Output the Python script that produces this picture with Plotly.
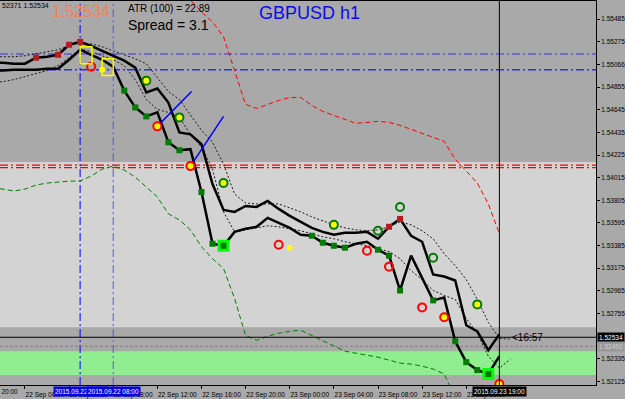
import plotly.graph_objects as go
import pandas as pd

# ---------------- data (GBPUSD H1) ----------------
bar_times = pd.date_range("2015-09-21 21:00", "2015-09-23 19:00", freq="h")
env_times = pd.date_range("2015-09-21 21:00", "2015-09-23 20:00", freq="h")
band_up_times = pd.date_range("2015-09-22 14:00", "2015-09-23 19:00", freq="h")
band_lo_times = pd.date_range("2015-09-21 21:00", "2015-09-23 15:00", freq="h")

line_a = [1.55082, 1.55082, 1.55072, 1.55072, 1.55128, 1.55137, 1.55155, 1.55248, 1.55275, 1.55238,
          1.55192, 1.55146, 1.55100, 1.55035, 1.54805, 1.54842, 1.54712, 1.54435, 1.54417, 1.54325,
          1.53955, 1.53716, 1.53697, 1.53752, 1.53743, 1.53799, 1.53725, 1.53660, 1.53605, 1.53549,
          1.53512, 1.53485, 1.53503, 1.53503, 1.53512, 1.53448, 1.53559, 1.53632, 1.53476, 1.53420,
          1.53116, 1.53097, 1.53060, 1.52645, 1.52589, 1.52414, 1.52562]
line_b = [1.55008, 1.55008, 1.55017, 1.55017, 1.55017, 1.55026, 1.55026, 1.55109, 1.55202, 1.55155,
          1.55109, 1.55045, 1.54823, 1.54666, 1.54583, 1.54620, 1.54343, 1.54269, 1.54279, 1.53882,
          1.53402, 1.53383, 1.53512, 1.53540, 1.53559, 1.53642, 1.53596, 1.53549, 1.53485, 1.53476,
          1.53411, 1.53383, 1.53365, 1.53402, 1.53420, 1.53346, 1.53291, 1.52968, 1.53291, 1.53079,
          1.52876, 1.52903, 1.52497, 1.52303, 1.52229, 1.52193, 1.52359]
env_upper = [1.55137, 1.55137, 1.55137, 1.55146, 1.55165, 1.55183, 1.55202, 1.55238, 1.55266, 1.55257,
             1.55229, 1.55192, 1.55155, 1.55118, 1.55072, 1.54943, 1.54814, 1.54740, 1.54602, 1.54454,
             1.54343, 1.54140, 1.53863, 1.53780, 1.53771, 1.53771, 1.53771, 1.53734, 1.53697, 1.53651,
             1.53614, 1.53577, 1.53549, 1.53531, 1.53522, 1.53531, 1.53559, 1.53605, 1.53577, 1.53522,
             1.53448, 1.53309, 1.53199, 1.53069, 1.52885, 1.52673, 1.52525, 1.52516]
env_lower = [1.54897, 1.54906, 1.54925, 1.54952, 1.54980, 1.55008, 1.55054, 1.55128, 1.55211, 1.55183,
             1.55146, 1.55109, 1.55054, 1.54925, 1.54740, 1.54648, 1.54620, 1.54574, 1.54417, 1.54297,
             1.54094, 1.53697, 1.53512, 1.53531, 1.53549, 1.53568, 1.53559, 1.53540, 1.53522, 1.53494,
             1.53466, 1.53448, 1.53420, 1.53402, 1.53383, 1.53356, 1.53328, 1.53263, 1.53152, 1.53069,
             1.52968, 1.52922, 1.52885, 1.52709, 1.52571, 1.52359, 1.52248, 1.52331]
band_upper = [1.55755, 1.55663, 1.55552, 1.55460, 1.55322, 1.54998, 1.54694, 1.54657, 1.54694, 1.54731,
              1.54759, 1.54759, 1.54685, 1.54629, 1.54592, 1.54555, 1.54519, 1.54528, 1.54537, 1.54528,
              1.54500, 1.54463, 1.54426, 1.54389, 1.54352, 1.54186, 1.54075, 1.53965, 1.53771, 1.53494]
band_lower = [1.53919, 1.53909, 1.53891, 1.53909, 1.53946, 1.53965, 1.53974, 1.53983, 1.53983, 1.54029,
              1.54094, 1.54122, 1.54085, 1.54020, 1.53928, 1.53836, 1.53679, 1.53623, 1.53531, 1.53374,
              1.53263, 1.53171, 1.52894, 1.52550, 1.52506, 1.52543, 1.52571, 1.52589, 1.52599, 1.52550,
              1.52506, 1.52451, 1.52405, 1.52386, 1.52368, 1.52349, 1.52322, 1.52294, 1.52285, 1.52266,
              1.52239, 1.52193, 1.51971]

red_sq_t = ["2015-09-22 01:00", "2015-09-22 03:00", "2015-09-22 04:00", "2015-09-22 05:00",
            "2015-09-23 09:00", "2015-09-23 10:00"]
red_sq_p = [1.55128, 1.55155, 1.55248, 1.55275, 1.53559, 1.53632]

green_sq_t = ["2015-09-22 09:00", "2015-09-22 10:00", "2015-09-22 11:00", "2015-09-22 13:00",
              "2015-09-22 14:00", "2015-09-22 16:00", "2015-09-22 17:00", "2015-09-22 18:00",
              "2015-09-23 02:00", "2015-09-23 03:00", "2015-09-23 04:00", "2015-09-23 05:00",
              "2015-09-23 08:00", "2015-09-23 09:00", "2015-09-23 10:00", "2015-09-23 13:00",
              "2015-09-23 15:00", "2015-09-23 16:00", "2015-09-23 17:00", "2015-09-23 18:00"]
green_sq_p = [1.54823, 1.54666, 1.54583, 1.54343, 1.54269, 1.53882, 1.53402, 1.53383,
              1.53476, 1.53411, 1.53383, 1.53365, 1.53346, 1.53291, 1.52968, 1.52876,
              1.52497, 1.52303, 1.52229, 1.52193]

big_sq_t = ["2015-09-22 18:00", "2015-09-23 18:00"]
big_sq_p = [1.53383, 1.52193]

yg_t = ["2015-09-22 11:00", "2015-09-22 14:00", "2015-09-22 18:00", "2015-09-23 04:00", "2015-09-23 17:00"]
yg_p = [1.54915, 1.54574, 1.53965, 1.53577, 1.52839]

gring_t = ["2015-09-23 08:00", "2015-09-23 10:00", "2015-09-23 13:00"]
gring_p = [1.53522, 1.53743, 1.53272]

yr_t = ["2015-09-22 12:00", "2015-09-22 15:00", "2015-09-23 14:00", "2015-09-23 19:00"]
yr_p = [1.54491, 1.54122, 1.52719, 1.52100]

rring_t = ["2015-09-22 06:00", "2015-09-22 23:00", "2015-09-23 07:00", "2015-09-23 09:00", "2015-09-23 12:00"]
rring_p = [1.55045, 1.53392, 1.53337, 1.53189, 1.52811]

ydot_t = ["2015-09-22 07:00", "2015-09-23 00:00"]
ydot_p = [1.55017, 1.53365]

trend1_t = ["2015-09-22 12:00", "2015-09-22 15:06"]
trend1_p = [1.54491, 1.54814]
trend2_t = ["2015-09-22 15:00", "2015-09-22 18:00"]
trend2_p = [1.54122, 1.54583]

box1 = ("2015-09-22 05:00", "2015-09-22 06:05", 1.55072, 1.55229)
box2 = ("2015-09-22 07:00", "2015-09-22 08:00", 1.54962, 1.55118)

blue_levels = [1.55162, 1.55017]
red_levels = [1.54131, 1.54108]
zone_light = (1.52626, 1.54159)
zone_green = (1.52183, 1.52405)
bid = 1.52534
ask = 1.52450
vlines = ["2015-09-22 05:00", "2015-09-22 08:00", "2015-09-23 19:00"]

x_ticks = ["2015-09-22 00:00", "2015-09-22 04:00", "2015-09-22 08:00", "2015-09-22 12:00",
           "2015-09-22 16:00", "2015-09-22 20:00", "2015-09-23 00:00", "2015-09-23 04:00",
           "2015-09-23 08:00", "2015-09-23 12:00", "2015-09-23 16:00"]
x_tick_text = ["22 Sep 00:00", "22 Sep 04:00", "22 Sep 08:00", "22 Sep 12:00", "22 Sep 16:00",
               "22 Sep 20:00", "23 Sep 00:00", "23 Sep 04:00", "23 Sep 08:00", "23 Sep 12:00",
               "23 Sep 16:00"]
y_ticks = [1.55485, 1.55275, 1.55066, 1.54855, 1.54645, 1.54435, 1.54225, 1.54015, 1.53805,
           1.53595, 1.53385, 1.53175, 1.52965, 1.52755, 1.52335, 1.52125]
y_tick_text = ["%.5f" % v for v in y_ticks]

# ---------------- figure ----------------
FONT = "Liberation Sans, Arial, sans-serif"
fig = go.Figure()

fig.add_trace(go.Scatter(x=band_lo_times, y=band_lower, mode="lines",
                         line=dict(color="#008000", width=1, dash="5px,3px")))
fig.add_trace(go.Scatter(x=band_up_times, y=band_upper, mode="lines",
                         line=dict(color="#FF0000", width=1, dash="5px,3px")))
fig.add_trace(go.Scatter(x=env_times, y=env_upper, mode="lines",
                         line=dict(color="#1A1A1A", width=1, dash="2px,2px")))
fig.add_trace(go.Scatter(x=env_times, y=env_lower, mode="lines",
                         line=dict(color="#1A1A1A", width=1, dash="2px,2px")))
fig.add_trace(go.Scatter(x=bar_times, y=line_a, mode="lines", line=dict(color="black", width=2.5)))
fig.add_trace(go.Scatter(x=bar_times, y=line_b, mode="lines", line=dict(color="black", width=2.5)))

for tt, pp in ((trend1_t, trend1_p), (trend2_t, trend2_p)):
    fig.add_trace(go.Scatter(x=tt, y=pp, mode="lines", line=dict(color="#0000FF", width=1.5)))

fig.add_trace(go.Scatter(x=big_sq_t, y=big_sq_p, mode="markers",
                         marker=dict(symbol="square", size=12, color="#00FF00", line=dict(width=0))))
fig.add_trace(go.Scatter(x=green_sq_t, y=green_sq_p, mode="markers",
                         marker=dict(symbol="square", size=6, color="#007A00", line=dict(width=0))))
fig.add_trace(go.Scatter(x=red_sq_t, y=red_sq_p, mode="markers",
                         marker=dict(symbol="square", size=6, color="#B41E1E", line=dict(width=0))))
fig.add_trace(go.Scatter(x=yg_t, y=yg_p, mode="markers",
                         marker=dict(symbol="circle", size=8, color="#FFFF00",
                                     line=dict(color="#007A00", width=2))))
fig.add_trace(go.Scatter(x=gring_t, y=gring_p, mode="markers",
                         marker=dict(symbol="circle", size=8, color="rgba(0,0,0,0)",
                                     line=dict(color="#007A00", width=2))))
fig.add_trace(go.Scatter(x=yr_t, y=yr_p, mode="markers",
                         marker=dict(symbol="circle", size=8, color="#FFFF00",
                                     line=dict(color="#FF0000", width=2))))
fig.add_trace(go.Scatter(x=rring_t, y=rring_p, mode="markers",
                         marker=dict(symbol="circle", size=8, color="rgba(0,0,0,0)",
                                     line=dict(color="#FF0000", width=2))))
fig.add_trace(go.Scatter(x=ydot_t, y=ydot_p, mode="markers",
                         marker=dict(symbol="circle", size=6, color="#FFFF00", line=dict(width=0))))

shapes = []
shapes.append(dict(type="rect", xref="paper", x0=0, x1=1, yref="y", y0=zone_light[0], y1=zone_light[1],
                   fillcolor="#D3D3D3", line=dict(width=0), layer="below"))
shapes.append(dict(type="rect", xref="paper", x0=0, x1=1, yref="y", y0=zone_green[0], y1=zone_green[1],
                   fillcolor="#90EE90", line=dict(width=0), layer="below"))
DASHDOT = "8px,3px,2px,3px"
for lv, col in zip(blue_levels, ["#5A5ACD", "#2F2FE6"]):
    shapes.append(dict(type="line", xref="paper", x0=0, x1=1, yref="y", y0=lv, y1=lv,
                       line=dict(color=col, width=1.5, dash=DASHDOT), layer="below"))
for lv in red_levels:
    shapes.append(dict(type="line", xref="paper", x0=0, x1=1, yref="y", y0=lv, y1=lv,
                       line=dict(color="#FF0000", width=1.3, dash=DASHDOT), layer="below"))
shapes.append(dict(type="line", xref="x", x0=vlines[0], x1=vlines[0], yref="paper", y0=0, y1=1,
                   line=dict(color="#0000FF", width=1, dash=DASHDOT), layer="below"))
shapes.append(dict(type="line", xref="x", x0=vlines[1], x1=vlines[1], yref="paper", y0=0, y1=1,
                   line=dict(color="#5A5ACD", width=1, dash=DASHDOT), layer="below"))
shapes.append(dict(type="line", xref="x", x0=vlines[2], x1=vlines[2], yref="paper", y0=0, y1=1,
                   line=dict(color="black", width=1), layer="above"))
shapes.append(dict(type="line", xref="paper", x0=0, x1=1, yref="y", y0=bid, y1=bid,
                   line=dict(color="black", width=1), layer="above"))
shapes.append(dict(type="line", xref="paper", x0=0, x1=1, yref="y", y0=ask, y1=ask,
                   line=dict(color="#808080", width=1, dash="3px,2px"), layer="below"))
for b in (box1, box2):
    shapes.append(dict(type="rect", xref="x", x0=b[0], x1=b[1], yref="y", y0=b[2], y1=b[3],
                       line=dict(color="#FFFF00", width=1.5), fillcolor="rgba(0,0,0,0)"))

PW, PH, TOP = 597.0, 386.0, 1.0
def px(x):
    return x / PW
def py(y):
    return (TOP + PH - y) / PH

ann = []
ann.append(dict(xref="paper", yref="paper", x=px(0), y=py(6), xanchor="left", yanchor="middle",
                text="52371 1.52534", showarrow=False, font=dict(size=7, color="black", family=FONT)))
ann.append(dict(xref="paper", yref="paper", x=px(81), y=py(12), xanchor="center", yanchor="middle",
                text="1.52534", showarrow=False, font=dict(size=16, color="#FF7F50", family=FONT)))
ann.append(dict(xref="paper", yref="paper", x=px(126), y=py(9), xanchor="left", yanchor="middle",
                text="ATR (100) = 22.89", showarrow=False, font=dict(size=10, color="black", family=FONT)))
ann.append(dict(xref="paper", yref="paper", x=px(126), y=py(25), xanchor="left", yanchor="middle",
                text="Spread = 3.1", showarrow=False, font=dict(size=14, color="black", family=FONT)))
ann.append(dict(xref="paper", yref="paper", x=px(310), y=py(13), xanchor="center", yanchor="middle",
                text="GBPUSD h1", showarrow=False, font=dict(size=18, color="#0A0AF0", family=FONT)))
ann.append(dict(xref="x", yref="y", x="2015-09-23 20:00", y=bid, xanchor="left", yanchor="middle",
                text="&lt;16:57", showarrow=False, font=dict(size=10, color="black", family=FONT)))
ann.append(dict(xref="paper", yref="y", x=1, y=bid, xanchor="left", yanchor="middle", xshift=1,
                text="%.5f" % bid, showarrow=False, bgcolor="black", borderpad=1,
                font=dict(size=6.5, color="white", family=FONT)))
ann.append(dict(xref="paper", yref="y", x=1, y=ask, xanchor="left", yanchor="middle", xshift=1,
                text="%.5f" % ask, showarrow=False, bgcolor="#999999", borderpad=1,
                font=dict(size=6.5, color="#D0D0D0", family=FONT)))
ann.append(dict(xref="paper", yref="paper", x=px(-23), y=py(394), xanchor="left", yanchor="middle",
                text="21 Sep 20:00", showarrow=False, font=dict(size=6.5, color="black", family=FONT)))
for t, lab, bg in ((vlines[0], "2015.09.22 05:00", "#0000E6"),
                   (vlines[1], "2015.09.22 08:00", "#0000E6"),
                   (vlines[2], "2015.09.23 19:00", "black")):
    ann.append(dict(xref="x", yref="paper", x=t, y=py(394), xanchor="center", yanchor="middle",
                    text=lab, showarrow=False, bgcolor=bg, borderpad=1,
                    font=dict(size=6.5, color="white", family=FONT)))

fig.update_layout(
    width=625, height=399,
    margin=dict(l=0, r=28, t=1, b=12, pad=0),
    paper_bgcolor="#A9A9A9", plot_bgcolor="#A9A9A9",
    showlegend=False,
    font=dict(family=FONT, color="black"),
    shapes=shapes, annotations=ann,
    xaxis=dict(type="date", range=["2015-09-21 21:44:16", "2015-09-24 03:45:36"],
               tickmode="array", tickvals=x_ticks, ticktext=x_tick_text,
               ticks="outside", ticklen=3, tickcolor="black", ticklabelshift=20,
               tickfont=dict(size=6.5, color="black"),
               showline=True, mirror=True, linecolor="black", linewidth=1,
               showgrid=False, zeroline=False, fixedrange=True),
    yaxis=dict(side="right", range=[1.52091, 1.55654],
               tickmode="array", tickvals=y_ticks, ticktext=y_tick_text,
               ticks="outside", ticklen=3, tickcolor="black",
               tickfont=dict(size=6.5, color="black"),
               showline=True, linecolor="black", linewidth=1,
               showgrid=False, zeroline=False, fixedrange=True),
)

fig.write_html("out.html")
